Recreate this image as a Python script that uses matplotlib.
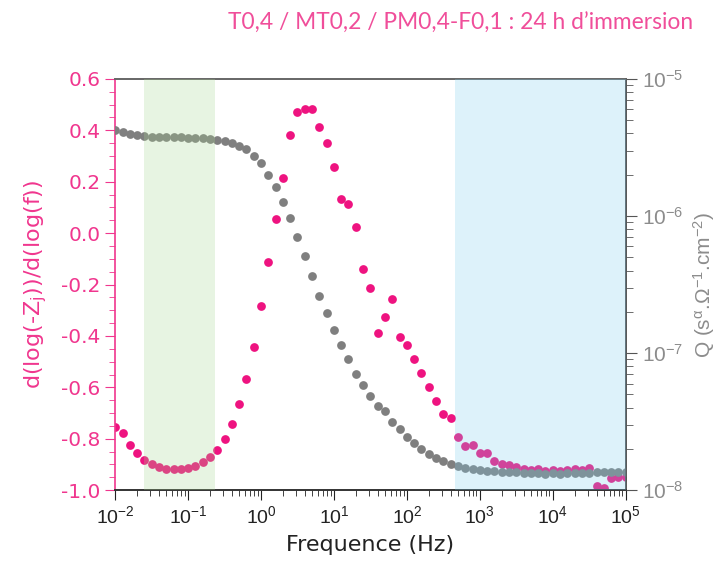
import numpy as np
import matplotlib.pyplot as plt
from matplotlib.ticker import LogLocator, NullFormatter, MultipleLocator

plt.rcParams['font.family'] = ['Liberation Sans', 'DejaVu Sans']
plt.rcParams['mathtext.fontset'] = 'custom'
plt.rcParams['mathtext.rm'] = 'Liberation Sans'
plt.rcParams['mathtext.it'] = 'Liberation Sans:italic'

# measurement frequencies (Hz), 10 points per decade
freq = [0.01, 0.0126, 0.0158, 0.02, 0.0251, 0.0316, 0.0398, 0.0501, 0.0631, 0.0794,
        0.1, 0.126, 0.158, 0.2, 0.251, 0.316, 0.398, 0.501, 0.631, 0.794,
        1.0, 1.26, 1.58, 2.0, 2.51, 3.16, 3.98, 5.01, 6.31, 7.94,
        10.0, 12.6, 15.8, 20.0, 25.1, 31.6, 39.8, 50.1, 63.1, 79.4,
        100.0, 126.0, 158.0, 200.0, 251.0, 316.0, 398.0, 501.0, 631.0, 794.0,
        1000.0, 1260.0, 1580.0, 2000.0, 2510.0, 3160.0, 3980.0, 5010.0, 6310.0, 7940.0,
        1e4, 1.26e4, 1.58e4, 2e4, 2.51e4, 3.16e4, 3.98e4, 5.01e4, 6.31e4, 7.94e4,
        1e5]

# d(log(-Zj))/d(log(f))
dlog = [-0.755, -0.778, -0.825, -0.856, -0.883, -0.899, -0.910, -0.918, -0.918, -0.918,
        -0.914, -0.906, -0.891, -0.871, -0.844, -0.801, -0.743, -0.665, -0.568, -0.443,
        -0.283, -0.112, 0.055, 0.215, 0.382, 0.472, 0.483, 0.483, 0.413, 0.351,
        0.257, 0.133, 0.113, 0.024, -0.140, -0.214, -0.389, -0.326, -0.256, -0.404,
        -0.435, -0.490, -0.544, -0.599, -0.653, -0.704, -0.720, -0.794, -0.829, -0.825,
        -0.856, -0.856, -0.887, -0.899, -0.903, -0.910, -0.918, -0.922, -0.918, -0.926,
        -0.922, -0.926, -0.922, -0.918, -0.922, -0.914, -0.984, -0.992, -0.953, -0.949,
        -0.949]

# Q (s^a.Ohm^-1.cm^-2)
q_vals = [4.25e-6, 4.10e-6, 3.97e-6, 3.90e-6, 3.84e-6, 3.80e-6, 3.78e-6, 3.78e-6, 3.74e-6, 3.74e-6,
          3.71e-6, 3.71e-6, 3.68e-6, 3.65e-6, 3.59e-6, 3.52e-6, 3.41e-6, 3.24e-6, 3.08e-6, 2.74e-6,
          2.44e-6, 1.99e-6, 1.63e-6, 1.26e-6, 9.66e-7, 7.03e-7, 5.11e-7, 3.65e-7, 2.61e-7, 1.96e-7,
          1.47e-7, 1.14e-7, 9.04e-8, 7.03e-8, 5.83e-8, 4.85e-8, 4.10e-8, 3.78e-8, 3.13e-8, 2.79e-8,
          2.44e-8, 2.20e-8, 1.99e-8, 1.83e-8, 1.71e-8, 1.63e-8, 1.55e-8, 1.50e-8, 1.45e-8, 1.42e-8,
          1.40e-8, 1.38e-8, 1.38e-8, 1.36e-8, 1.35e-8, 1.35e-8, 1.34e-8, 1.33e-8, 1.33e-8, 1.32e-8,
          1.33e-8, 1.32e-8, 1.33e-8, 1.33e-8, 1.34e-8, 1.34e-8, 1.35e-8, 1.35e-8, 1.36e-8, 1.36e-8,
          1.36e-8]

green_zone = (0.025, 0.23)
blue_zone = (450, 1e5)

pink = '#EE1380'
pink_txt = '#F0368E'
grey = '#7F7F7F'
grey_txt = '#8C8C8C'
wide = ['DejaVu Sans']

fig = plt.figure(figsize=(7.2, 5.76), dpi=100)
ax = fig.add_axes([0.160, 0.149, 0.709, 0.714])
ax2 = ax.twinx()

ax.plot(freq, dlog, 'o', color=pink, ms=6.3, mec='none', zorder=2)
ax2.plot(freq, q_vals, 'o', color=grey, ms=6.3, mec='none', zorder=2)

ax2.axvspan(*green_zone, color='#A6D58F', alpha=0.26, lw=0, zorder=3)
ax2.axvspan(*blue_zone, color='#7CCDEC', alpha=0.26, lw=0, zorder=3)

ax.set_xscale('log')
ax.set_xlim(1e-2, 1e5)
ax.set_ylim(-1.0, 0.6)
ax.yaxis.set_major_locator(MultipleLocator(0.2))
ax.yaxis.set_minor_locator(MultipleLocator(0.05))
ax.set_yticks(ax.get_yticks())
ax.set_yticklabels([f'{v:.1f}' for v in ax.get_yticks()], family=wide)
ax.set_ylim(-1.0, 0.6)
ax.xaxis.set_major_locator(LogLocator(base=10, numticks=20))
ax.xaxis.set_minor_locator(LogLocator(base=10, subs=np.arange(2, 10), numticks=20))
ax.xaxis.set_minor_formatter(NullFormatter())

ax2.set_yscale('log')
ax2.set_ylim(1e-8, 1e-5)
ax2.yaxis.set_minor_formatter(NullFormatter())

ax.tick_params(axis='y', which='both', direction='out', colors=pink_txt, labelsize=14.5)
ax.tick_params(axis='y', which='major', length=7)
ax.tick_params(axis='y', which='minor', length=4)
ax.tick_params(axis='x', which='major', direction='out', length=7, labelsize=14, colors='#222222')
ax.tick_params(axis='x', which='minor', direction='out', length=4, colors='#222222')
ax2.tick_params(axis='y', which='major', direction='out', length=8, colors='#555555',
                labelcolor=grey_txt, labelsize=15)
ax2.tick_params(axis='y', which='minor', direction='out', length=5, colors='#555555')

for a in (ax, ax2):
    a.spines['top'].set_color('#666666')
    a.spines['bottom'].set_color('#333333')
    a.spines['right'].set_color('#555555')
ax.spines['left'].set_color(pink_txt)
ax2.spines['left'].set_visible(False)
for s in ax.spines.values():
    s.set_linewidth(1.2)
for s in ax2.spines.values():
    s.set_linewidth(1.2)

ax.set_xlabel('Frequence (Hz)', fontsize=16, color='#222222', labelpad=6, family=wide)
ax.set_ylabel(r'd(log(-Z$_{\mathregular{j}}$))/d(log(f))', fontsize=16, color=pink_txt,
              labelpad=9, family=wide)
ax2.set_ylabel(r'Q (s$^{\mathregular{α}}$.Ω$^{\mathregular{-1}}$.cm$^{\mathregular{-2}}$)',
               fontsize=15, color=grey_txt, labelpad=6)

fig.text(0.639, 0.960, 'T0,4 / MT0,2 / PM0,4-F0,1 : 24 h d’immersion', ha='center', va='center',
         fontsize=16.4, color='#F04E9A', family=['Lato', 'DejaVu Sans'])

fig.savefig('out.png', dpi=100)
